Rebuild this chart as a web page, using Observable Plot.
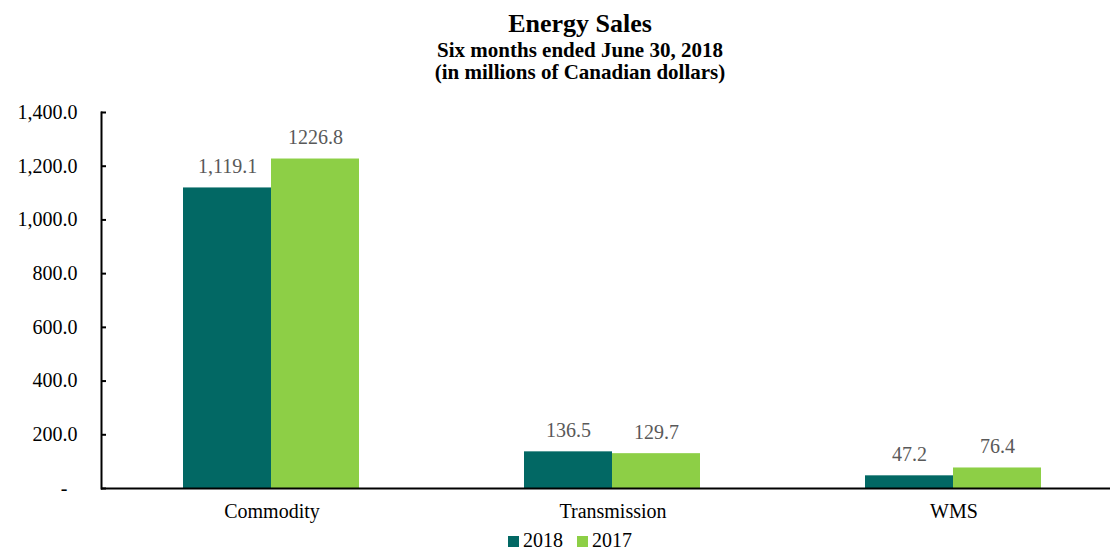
<!DOCTYPE html>
<html>
<head>
<meta charset="utf-8">
<script src="https://cdn.jsdelivr.net/npm/d3@7"></script>
<script src="https://cdn.jsdelivr.net/npm/@observablehq/plot@0.6"></script>
<style>
  html, body { margin: 0; padding: 0; background: #fff; }
  #wrap { position: relative; width: 1110px; height: 552px; overflow: hidden; font-family: "Liberation Serif", "Times New Roman", serif; }
  #header { width: 1160px; height: 100px; box-sizing: border-box; padding-top: 9px; text-align: center; font-weight: bold; color: #000; }
  #header .t { font-size: 26px; line-height: 30px; }
  #header .s { font-size: 21px; line-height: 22px; }
  #chart { width: 1124px; height: 430px; }
  #chart svg { max-width: none !important; display: block; }
  #legend { height: 22px; box-sizing: border-box; padding-top: 0px; padding-left: 508px; font-size: 20px; line-height: 21px; white-space: nowrap; }
  #legend .item { display: inline-block; margin-right: 14px; }
  #legend .sw { display: inline-block; width: 11px; height: 11px; margin-right: 4px; vertical-align: baseline; }
</style>
</head>
<body>
<div id="wrap">
  <div id="header">
    <div class="t">Energy Sales</div>
    <div class="s">Six months ended June 30, 2018</div>
    <div class="s">(in millions of Canadian dollars)</div>
  </div>
  <div id="chart"></div>
  <div id="legend"></div>
</div>
<script>
const categories = ["Commodity", "Transmission", "WMS"];
const seriesNames = ["2018", "2017"];
const values2018 = [1119.1, 136.5, 47.2];
const values2017 = [1226.8, 129.7, 76.4];
const labels2018 = ["1,119.1", "136.5", "47.2"];
const labels2017 = ["1226.8", "129.7", "76.4"];
const yTicks = [0, 200, 400, 600, 800, 1000, 1200, 1400];
const colors = ["#026864", "#8dcf46"];

const rows = [];
categories.forEach((c, i) => {
  rows.push({category: c, series: "2018", value: values2018[i], label: labels2018[i]});
  rows.push({category: c, series: "2017", value: values2017[i], label: labels2017[i]});
});

const fmt = d3.format(",.1f");
const tickFormat = d => d === 0 ? "-\u00a0\u00a0" : fmt(d);

const chart = Plot.plot({
  width: 1124,
  height: 430,
  marginTop: 12,
  marginBottom: 42,
  marginLeft: 101,
  marginRight: 0,
  style: {fontFamily: "'Liberation Serif', 'Times New Roman', serif", fontSize: "20px", color: "#000", background: "#fff", overflow: "visible", maxWidth: "none"},
  fx: {domain: categories, padding: 0, axis: "bottom", tickSize: 0, tickPadding: 15, label: null},
  x: {domain: seriesNames, paddingInner: 0, paddingOuter: 0.93, axis: null},
  y: {domain: [0, 1400], axis: null},
  color: {domain: seriesNames, range: colors},
  marks: [
    Plot.barY(rows, {fx: "category", x: "series", y: "value", fill: "series", dx: -1}),
    Plot.text(rows, {fx: "category", x: "series", y: "value", text: "label", lineAnchor: "bottom", dy: -15, dx: -1, fill: "#595959", fontSize: 20}),
    Plot.axisY({ticks: yTicks, tickSize: 0, tickPadding: 24, tickFormat, label: null, fontSize: 20}),
    Plot.axisY({ticks: yTicks, tickSize: 5, dx: 5, strokeWidth: 2, tickFormat: () => "", label: null}),
    Plot.frame({anchor: "left", facetAnchor: "left", strokeWidth: 2}),
    Plot.ruleY([0], {strokeWidth: 2})
  ]
});
document.getElementById("chart").appendChild(chart);

const legend = document.getElementById("legend");
seriesNames.forEach((s, i) => {
  const item = document.createElement("span");
  item.className = "item";
  const sw = document.createElement("span");
  sw.className = "sw";
  sw.style.background = colors[i];
  item.appendChild(sw);
  item.appendChild(document.createTextNode(s));
  legend.appendChild(item);
});
</script>
</body>
</html>
